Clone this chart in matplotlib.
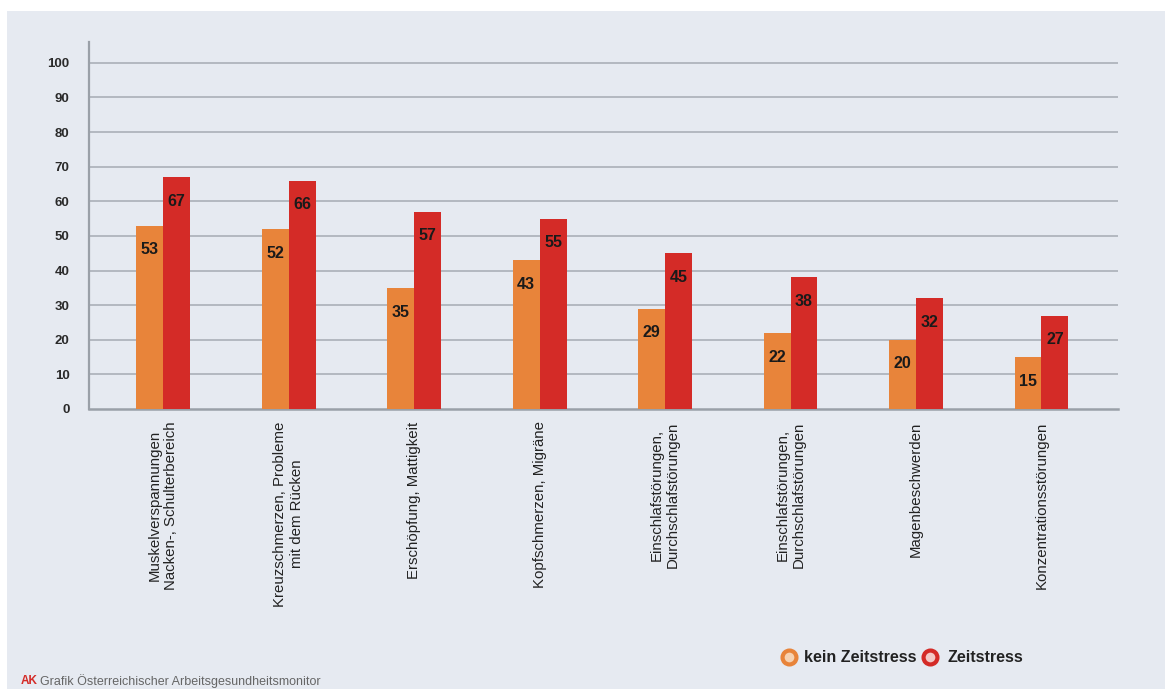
import matplotlib.pyplot as plt
from matplotlib.patches import Rectangle
from matplotlib.lines import Line2D
import numpy as np

plt.rcParams["font.family"] = ["Liberation Sans", "DejaVu Sans"]

categories = [
    "Muskelverspannungen\nNacken-, Schulterbereich",
    "Kreuzschmerzen, Probleme\nmit dem Rücken",
    "Erschöpfung, Mattigkeit",
    "Kopfschmerzen, Migräne",
    "Einschlafstörungen,\nDurchschlafstörungen",
    "Einschlafstörungen,\nDurchschlafstörungen",
    "Magenbeschwerden",
    "Konzentrationsstörungen",
]
kein_zeitstress = [53, 52, 35, 43, 29, 22, 20, 15]
zeitstress = [67, 66, 57, 55, 45, 38, 32, 27]
yticks = list(range(0, 101, 10))

ORANGE = "#e8843a"
RED = "#d42b27"
BG = "#e6eaf1"
GRID = "#b3b8c0"

fig = plt.figure(figsize=(11.65, 6.89), dpi=100)
fig.patch.set_facecolor("white")
fig.add_artist(Rectangle((7 / 1165, 0), 1, 1 - 11 / 689, transform=fig.transFigure,
                         facecolor=BG, edgecolor="none", zorder=-10))

ax = fig.add_axes([0.0764, 0.4064, 0.8833, 0.5326])
ax.set_facecolor(BG)

x = np.arange(len(categories))
w = 0.215
b1 = ax.bar(x - w / 2, kein_zeitstress, w, color=ORANGE, zorder=3)
b2 = ax.bar(x + w / 2, zeitstress, w, color=RED, zorder=3)

# value labels just below the top of each bar
for bars, vals in ((b1, kein_zeitstress), (b2, zeitstress)):
    for rect, v in zip(bars, vals):
        ax.text(rect.get_x() + rect.get_width() / 2, v - 7, str(v), ha="center", va="center",
                fontsize=11.5, fontweight="bold", color="#1a1a1a", zorder=4)

ax.set_xlim(-0.59, 7.61)
ax.set_ylim(0, 106)
ax.set_yticks(yticks)
ax.set_yticklabels([str(t) for t in yticks], fontsize=9.5, fontweight="bold", color="#2a2a2a")
for t in yticks[1:]:
    ax.axhline(t, color=GRID, linewidth=1.4, zorder=1)

ax.set_xticks(x)
ax.set_xticklabels(categories, rotation=90, ha="center", va="top", fontsize=10.8, color="#222222",
                   multialignment="center")
ax.tick_params(axis="both", length=0)
ax.tick_params(axis="x", pad=9)
ax.tick_params(axis="y", pad=14)

for side in ("top", "right"):
    ax.spines[side].set_visible(False)
ax.spines["left"].set_color("#9aa0a8")
ax.spines["left"].set_linewidth(1.6)
ax.spines["bottom"].set_color("#9aa0a8")
ax.spines["bottom"].set_linewidth(1.8)

# legend
ly = 1 - 657 / 689
fig.add_artist(Line2D([789 / 1165], [ly], marker="o", markersize=10,
                      markerfacecolor="#f6d2b2", markeredgecolor=ORANGE, markeredgewidth=3,
                      transform=fig.transFigure))
fig.text(804 / 1165, ly, "kein Zeitstress", ha="left", va="center",
         fontsize=11.5, fontweight="bold", color="#222222")
fig.add_artist(Line2D([930 / 1165], [ly], marker="o", markersize=10,
                      markerfacecolor="#f3c9c6", markeredgecolor=RED, markeredgewidth=3,
                      transform=fig.transFigure))
fig.text(947 / 1165, ly, "Zeitstress", ha="left", va="center",
         fontsize=11.5, fontweight="bold", color="#222222")

# footer
fig.text(21 / 1165, 1 - 681 / 689, "AK", ha="left", va="center", fontsize=8.5,
         fontweight="bold", color=RED)
fig.text(40 / 1165, 1 - 681 / 689, "Grafik Österreichischer Arbeitsgesundheitsmonitor",
         ha="left", va="center", fontsize=9, color="#666666")

fig.savefig("out.png", dpi=100)
